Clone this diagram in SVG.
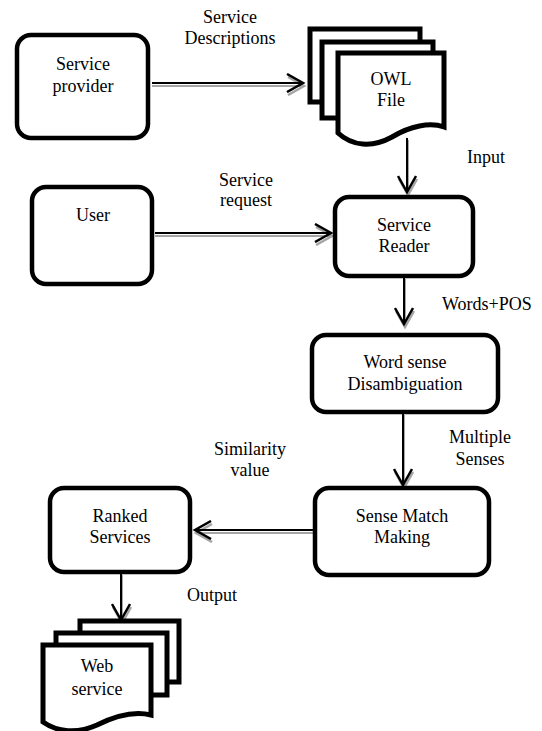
<svg xmlns="http://www.w3.org/2000/svg" width="542" height="731" viewBox="0 0 542 731">
<style>
text{font-family:"Liberation Serif","Times New Roman",serif;font-size:18px;fill:#000;text-anchor:middle}
.box{fill:#fff;stroke:#000;stroke-width:4.5}
.page{fill:#fff;stroke:#000;stroke-width:5;stroke-linejoin:miter}
.ln{fill:none;stroke:#000;stroke-width:2}
.sh{fill:none;stroke:#a6a6a6;stroke-width:2}
.lbl{text-anchor:start}
</style>
<defs>
<marker id="ah" viewBox="0 0 20 20" refX="17" refY="10" markerWidth="20" markerHeight="20" markerUnits="userSpaceOnUse" orient="auto">
<path d="M1,1 L17,10 L1,19" fill="none" stroke="#000" stroke-width="2.5"/>
</marker>
<marker id="ahs" viewBox="0 0 20 20" refX="17" refY="10" markerWidth="20" markerHeight="20" markerUnits="userSpaceOnUse" orient="auto">
<path d="M1,1 L17,10 L1,19" fill="none" stroke="#a6a6a6" stroke-width="2.5"/>
</marker>
</defs>

<g id="connectors">
<line class="sh" x1="152" y1="86" x2="304" y2="86" marker-end="url(#ahs)"/>
<line class="ln" x1="152" y1="83" x2="303" y2="83" marker-end="url(#ah)"/>
<line class="sh" x1="408" y1="140" x2="408" y2="195" marker-end="url(#ahs)"/>
<line class="ln" x1="407" y1="138" x2="407" y2="192" marker-end="url(#ah)"/>
<line class="sh" x1="155" y1="236" x2="332" y2="236" marker-end="url(#ahs)"/>
<line class="ln" x1="155" y1="233" x2="331" y2="233" marker-end="url(#ah)"/>
<line class="sh" x1="405" y1="279" x2="405" y2="327" marker-end="url(#ahs)"/>
<line class="ln" x1="404" y1="278" x2="404" y2="324" marker-end="url(#ah)"/>
<line class="sh" x1="404" y1="415" x2="404" y2="488" marker-end="url(#ahs)"/>
<line class="ln" x1="403" y1="414" x2="403" y2="485" marker-end="url(#ah)"/>
<line class="sh" x1="315" y1="533" x2="196" y2="533" marker-end="url(#ahs)"/>
<line class="ln" x1="315" y1="530" x2="195" y2="530" marker-end="url(#ah)"/>
<line class="sh" x1="122" y1="575" x2="122" y2="623" marker-end="url(#ahs)"/>
<line class="ln" x1="121" y1="574" x2="121" y2="620" marker-end="url(#ah)"/>
</g>

<g id="labels">
<text x="230" y="23">Service</text>
<text x="230" y="44">Descriptions</text>
<text class="lbl" x="467" y="163">Input</text>
<text x="246" y="186">Service</text>
<text x="246" y="206">request</text>
<text class="lbl" x="442" y="310">Words+POS</text>
<text x="480" y="443">Multiple</text>
<text x="480" y="465">Senses</text>
<text x="250" y="455">Similarity</text>
<text x="250" y="476">value</text>
<text class="lbl" x="187" y="601">Output</text>
</g>

<g id="service-provider">
<rect class="box" x="17" y="35" width="131" height="103" rx="14"/>
<text x="83" y="70">Service</text>
<text x="83" y="92">provider</text>
</g>

<g id="owl-file">
<rect class="page" x="310" y="29" width="110" height="73"/>
<rect class="page" x="322" y="42" width="111" height="76"/>
<path class="page" d="M338,53 H444 V127 C430,122 410,126 392,137 C372,148 352,146 338,133 Z"/>
<text x="391" y="85">OWL</text>
<text x="391" y="106">File</text>
</g>

<g id="user">
<rect class="box" x="32" y="187" width="120" height="97" rx="14"/>
<text x="93" y="221">User</text>
</g>

<g id="service-reader">
<rect class="box" x="335" y="197" width="138" height="79" rx="14"/>
<text x="404" y="231">Service</text>
<text x="404" y="252">Reader</text>
</g>

<g id="wsd">
<rect class="box" x="312" y="335" width="186" height="77" rx="14"/>
<text x="405" y="368">Word sense</text>
<text x="405" y="390">Disambiguation</text>
</g>

<g id="sense-match">
<rect class="box" x="315" y="488" width="174" height="87" rx="14"/>
<text x="402" y="522">Sense Match</text>
<text x="402" y="543">Making</text>
</g>

<g id="ranked">
<rect class="box" x="50" y="488" width="140" height="84" rx="14"/>
<text x="120" y="522">Ranked</text>
<text x="120" y="543">Services</text>
</g>

<g id="web-service">
<rect class="page" x="80" y="621" width="99" height="61"/>
<rect class="page" x="56" y="633" width="111" height="62"/>
<path class="page" d="M43,645 H151 V715 C135,711 115,716 97,725 C77,734 57,732 43,722 Z"/>
<text x="97" y="672">Web</text>
<text x="97" y="695">service</text>
</g>
</svg>
